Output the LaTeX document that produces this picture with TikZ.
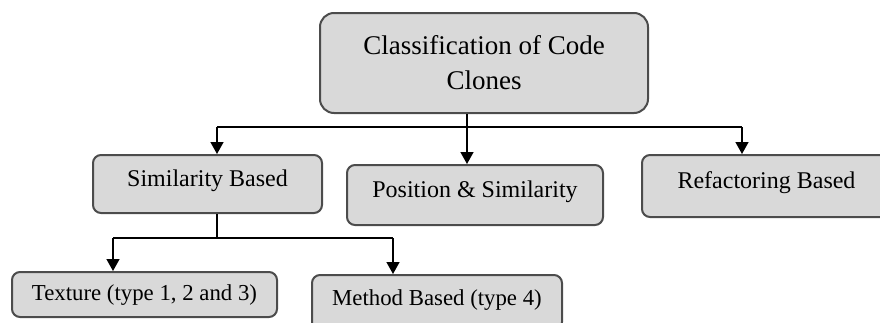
\documentclass[tikz,border=0pt]{standalone}
\usepackage{fontspec}
\setmainfont{Liberation Serif}
\usetikzlibrary{arrows.meta,positioning}

\begin{document}
\begin{tikzpicture}[
    x=0.5pt, y=-0.5pt,
    box/.style={rectangle, draw=black!70, line width=1pt, fill=black!15, rounded corners=4pt, align=center, inner sep=0pt, font=\fontsize{12}{15}\selectfont, text height=8pt, text depth=6pt},
    subbox/.style={box, font=\fontsize{11.4}{14}\selectfont, text height=8pt, text depth=2.5pt},
    arrow/.style={-{Triangle[width=6.5pt,length=6pt]}, line width=0.75pt},
    link/.style={line width=0.75pt}
]
    \useasboundingbox (0,0) rectangle (880,322);
    \clip (0,0) rectangle (880,322);

    % Root
    \node[box, minimum width=164pt, minimum height=50pt, rounded corners=7pt, text height=, text depth=, font=\fontsize{13.5}{17.5}\selectfont] (root) at (484,63) {Classification of Code\\Clones};

    % First level
    \node[box, minimum width=114.5pt, minimum height=29pt] (sim) at (207.5,184) {Similarity Based};
    \node[box, minimum width=128pt, minimum height=30pt] (pos) at (475,195) {Position \& Similarity};
    \node[box, minimum width=124.5pt, minimum height=31pt] (ref) at (766.5,186) {Refactoring Based};

    % Second level
    \node[subbox, minimum width=132.5pt, minimum height=22.5pt] (tex) at (144.5,294.5) {Texture (type 1, 2 and 3)};
    \node[subbox, minimum width=125pt, minimum height=27.5pt, text depth=5.5pt] (meth) at (437,302.5) {Method Based (type 4)};

    % Branches from the root
    \coordinate (split) at (467,127);
    \coordinate (left) at (217,127);
    \coordinate (right) at (742,127);
    \draw[link] (root.south -| split) -- (split);
    \draw[link] (left) -- (right);
    \draw[arrow] (left) -- (sim.north -| left);
    \draw[arrow] (split) -- (pos.north -| split);
    \draw[arrow] (right) -- (ref.north -| right);

    % Branches from Similarity Based
    \coordinate (split2) at (217,238);
    \coordinate (left2) at (113,238);
    \coordinate (right2) at (393,238);
    \draw[link] (sim.south -| split2) -- (split2);
    \draw[link] (left2) -- (right2);
    \draw[arrow] (left2) -- (tex.north -| left2);
    \draw[arrow] (right2) -- (meth.north -| right2);

\end{tikzpicture}
\end{document}
